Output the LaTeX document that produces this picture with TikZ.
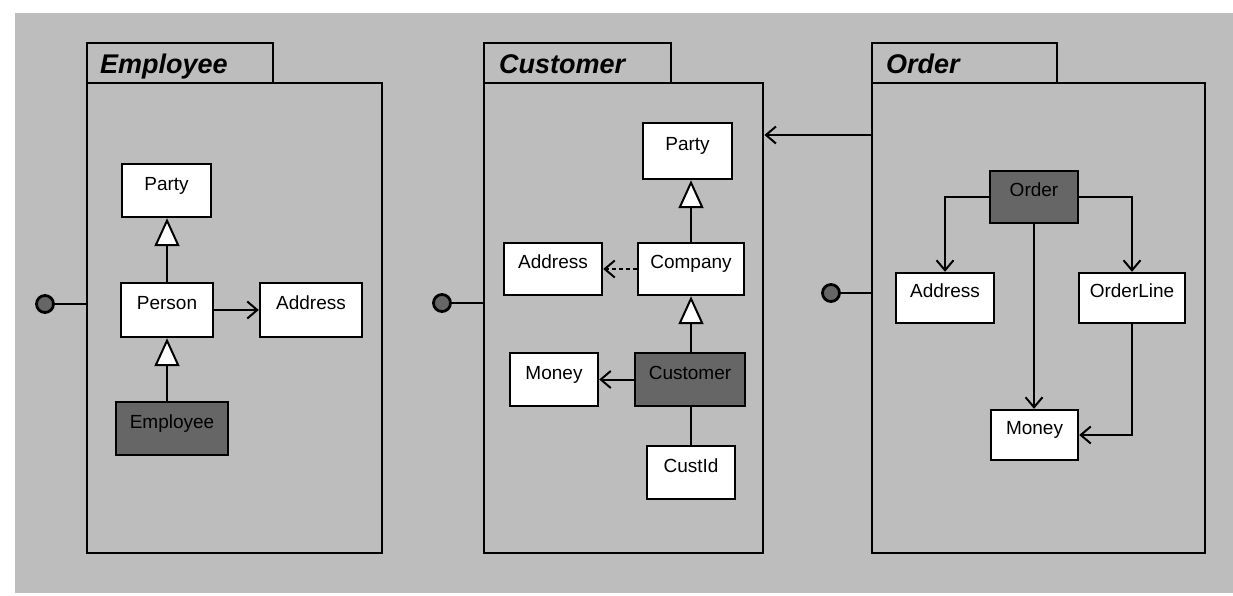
\documentclass[tikz,border=0pt]{standalone}
\usepackage{fontspec}
\setmainfont{Liberation Sans}
\usetikzlibrary{arrows.meta}

\definecolor{paper}{gray}{0.74}
\definecolor{shade}{gray}{0.40}

\tikzset{
  pkg/.style={rectangle, draw=black, line width=2.8pt, fill=paper, inner sep=0pt},
  pkgname/.style={anchor=base west, inner sep=0pt, font=\fontsize{27}{30}\selectfont\bfseries\itshape},
  cls/.style={rectangle, draw=black, line width=2.4pt, fill=white, inner sep=0pt,
    font=\fontsize{19}{22}\selectfont, text height=13pt, text depth=14pt},
  hot/.style={cls, fill=shade},
  gen/.style={line width=2pt, -{Triangle[length=28pt,width=25pt,fill=white]}},
  nav/.style={line width=2pt, -{Straight Barb[length=10pt,width=17pt]}},
  dep/.style={nav, dash pattern=on 4pt off 3pt},
  lolly/.style={circle, draw=black, line width=2.8pt, fill=shade, minimum size=17pt, inner sep=0pt},
  wire/.style={line width=2pt}
}

\begin{document}
\begin{tikzpicture}[x=1pt,y=-1pt]
\useasboundingbox (0,0) rectangle (1233,596);
\fill[paper] (15,13) rectangle (1233,593);

% ---------- Employee package ----------
\node[pkg, minimum width=186pt, minimum height=40pt] (tabE) at (180,63) {};
\node[pkg, minimum width=295pt, minimum height=470pt] (pkgE) at (234.5,318) {};
\node[pkgname] (nameE) at (100,74) {Employee};

\node[cls, minimum width=89pt,  minimum height=53pt] (ePar) at (166.5,190.5) {Party};
\node[cls, minimum width=92pt,  minimum height=54pt] (ePer) at (167,310) {Person};
\node[cls, minimum width=102pt, minimum height=54pt] (eAdd) at (311,310) {Address};
\node[hot, minimum width=112pt, minimum height=53pt] (eEmp) at (172,428.5) {Employee};

\draw[gen] (ePer.north) -- (ePer.north |- ePar.south);
\draw[gen] (ePer.south |- eEmp.north) -- (ePer.south);
\draw[nav] (ePer.east) -- (eAdd.west);

\node[lolly] (iE) at (45,304) {};
\draw[wire] (iE) -- (iE -| pkgE.west);

% ---------- Customer package ----------
\node[pkg, minimum width=187pt, minimum height=40pt] (tabC) at (577.5,63) {};
\node[pkg, minimum width=279pt, minimum height=470pt] (pkgC) at (623.5,318) {};
\node[pkgname] (nameC) at (499,74) {Customer};

\node[cls, minimum width=89pt,  minimum height=56pt] (cPar) at (687.5,151) {Party};
\node[cls, minimum width=98pt,  minimum height=52pt] (cAdd) at (553,269) {Address};
\node[cls, minimum width=106pt, minimum height=52pt] (cCom) at (691,269) {Company};
\node[cls, minimum width=88pt,  minimum height=53pt] (cMon) at (554,379.5) {Money};
\node[hot, minimum width=110pt, minimum height=53pt] (cCus) at (690,379.5) {Customer};
\node[cls, minimum width=88pt,  minimum height=53pt] (cCid) at (691,472.5) {CustId};

\draw[gen] (cCom.north) -- (cCom.north |- cPar.south);
\draw[gen] (cCom.south |- cCus.north) -- (cCom.south);
\draw[dep] (cCom.west) -- (cAdd.east);
\draw[nav] (cCus.west) -- (cMon.east);
\draw[wire] (cCom.south |- cCus.south) -- (cCom.south |- cCid.north);

\node[lolly] (iC) at (442,303) {};
\draw[wire] (iC) -- (iC -| pkgC.west);

% ---------- Order package ----------
\node[pkg, minimum width=185pt, minimum height=40pt] (tabO) at (964.5,63) {};
\node[pkg, minimum width=333pt, minimum height=470pt] (pkgO) at (1038.5,318) {};
\node[pkgname] (nameO) at (886,74) {Order};

\node[hot, minimum width=88pt,  minimum height=52pt] (oOrd) at (1034,197) {Order};
\node[cls, minimum width=98pt,  minimum height=50pt] (oAdd) at (945,298) {Address};
\node[cls, minimum width=106pt, minimum height=50pt] (oLin) at (1132,298) {OrderLine};
\node[cls, minimum width=87pt,  minimum height=50pt] (oMon) at (1034.5,435) {Money};

\draw[nav] (oOrd.west) -| (oAdd.north);
\draw[nav] (oOrd.east) -| (oLin.north);
\draw[nav] (oOrd.south) -- (oOrd.south |- oMon.north);
\draw[nav] (oLin.south) |- (oMon.east);

\node[lolly] (iO) at (831,293) {};
\draw[wire] (iO) -- (iO -| pkgO.west);

% ---------- package dependency ----------
\coordinate (depY) at (0,135);
\draw[nav] (pkgO.west |- depY) -- (pkgC.east |- depY);
\end{tikzpicture}
\end{document}
